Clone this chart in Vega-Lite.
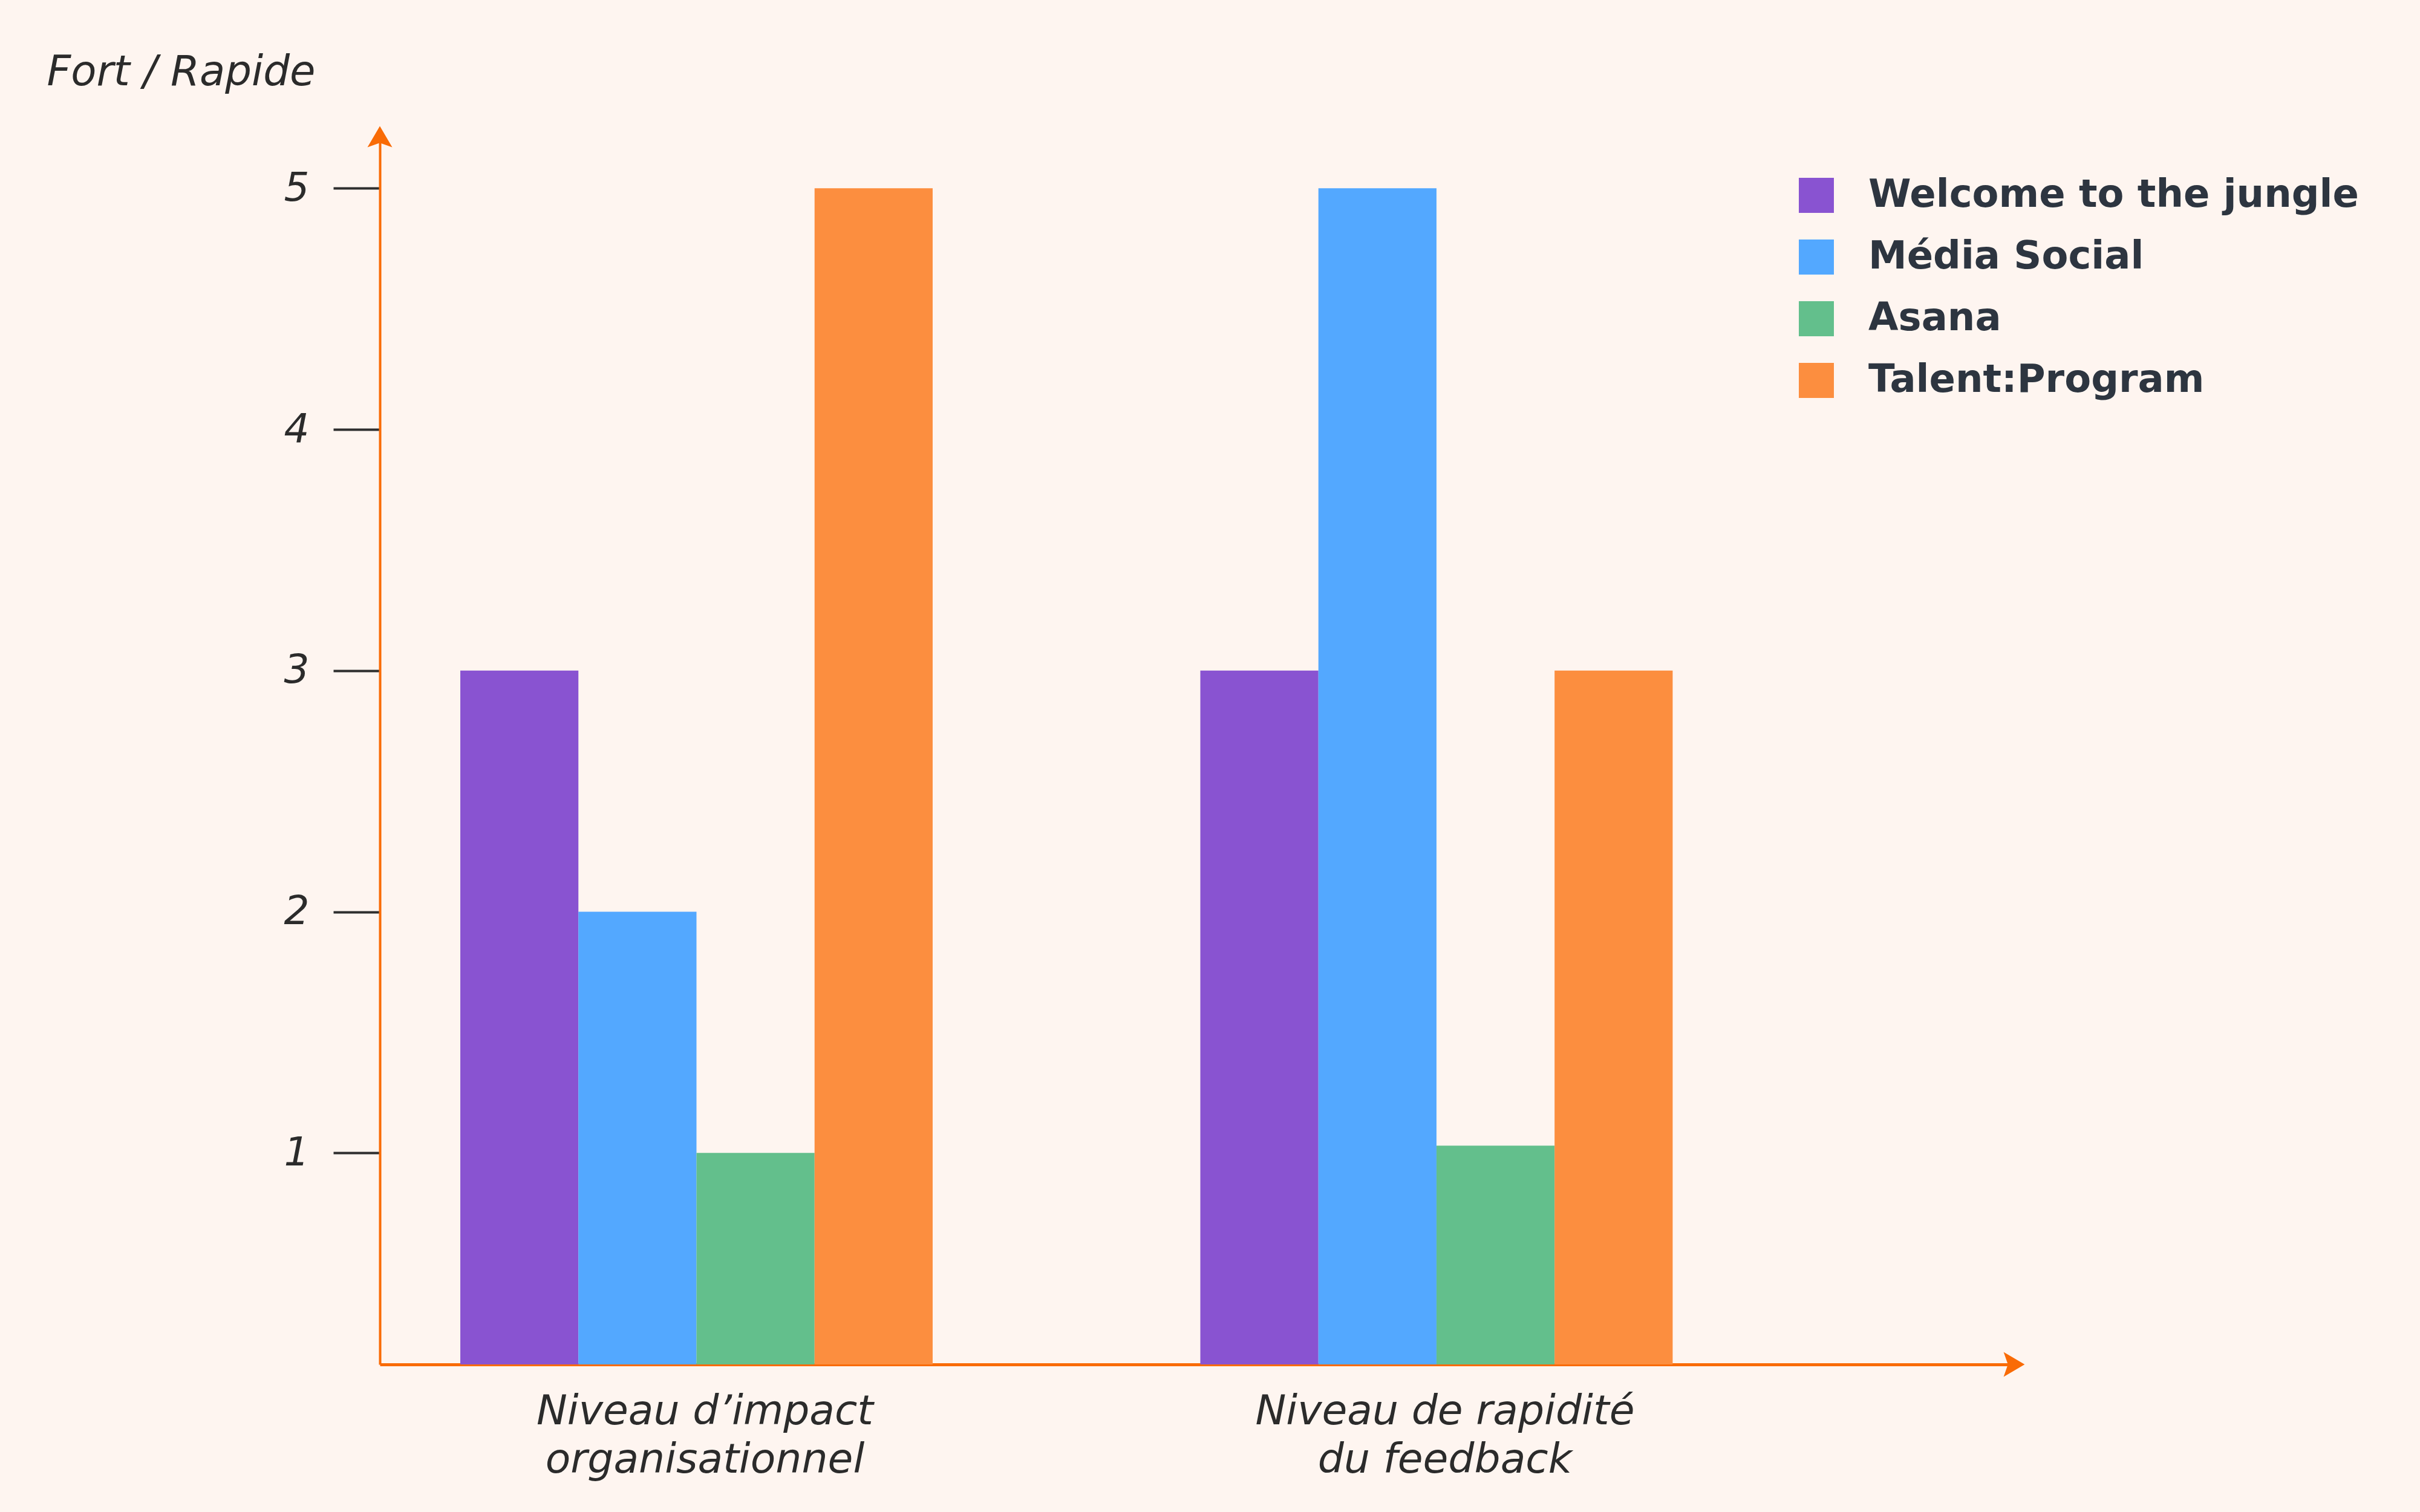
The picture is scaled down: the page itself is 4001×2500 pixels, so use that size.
{
  "$schema": "https://vega.github.io/schema/vega-lite/v6.json",
  "width": 2702,
  "height": 2030,
  "autosize": {"type": "none"},
  "padding": {"left": 628, "top": 226, "right": 671, "bottom": 244},
  "background": "#fef5f0",
  "config": {"font": "DejaVu Sans", "view": {"stroke": null}},
  "datasets": {
    "scores": [
      {"critere": "Niveau d’impact organisationnel", "outil": "Welcome to the jungle", "note": 3},
      {"critere": "Niveau d’impact organisationnel", "outil": "Média Social", "note": 2},
      {"critere": "Niveau d’impact organisationnel", "outil": "Asana", "note": 1},
      {"critere": "Niveau d’impact organisationnel", "outil": "Talent:Program", "note": 5},
      {"critere": "Niveau de rapidité du feedback", "outil": "Welcome to the jungle", "note": 3},
      {"critere": "Niveau de rapidité du feedback", "outil": "Média Social", "note": 5},
      {"critere": "Niveau de rapidité du feedback", "outil": "Asana", "note": 1.03},
      {"critere": "Niveau de rapidité du feedback", "outil": "Talent:Program", "note": 3}
    ],
    "fleche": [{"axe": "un"}]
  },
  "layer": [
    {
      "data": {"name": "scores"},
      "mark": {"type": "bar", "clip": true},
      "encoding": {
        "x": {
          "field": "critere",
          "type": "nominal",
          "sort": ["Niveau d’impact organisationnel", "Niveau de rapidité du feedback"],
          "scale": {"paddingInner": 0.3617, "paddingOuter": 0.2851, "align": 0.1907},
          "axis": {
            "title": null,
            "ticks": false,
            "domainColor": "#f96b06",
            "domainWidth": 5,
            "labelAngle": 0,
            "labelFontSize": 68,
            "labelFontStyle": "italic",
            "labelColor": "#2b2b2b",
            "labelPadding": 44,
            "labelLineHeight": 80,
            "labelOffset": 14,
            "labelLimit": 2000,
            "labelExpr": "datum.value === 'Niveau d’impact organisationnel' ? ['Niveau d’impact', 'organisationnel'] : ['Niveau de rapidité', 'du feedback']"
          }
        },
        "xOffset": {
          "field": "outil",
          "type": "nominal",
          "sort": ["Welcome to the jungle", "Média Social", "Asana", "Talent:Program"]
        },
        "y": {
          "field": "note",
          "type": "quantitative",
          "scale": {"domain": [0.123, 5.214], "zero": false, "nice": false},
          "axis": {
            "values": [1, 2, 3, 4, 5],
            "format": "d",
            "title": "Fort / Rapide",
            "titleAngle": 0,
            "titleAlign": "left",
            "titleBaseline": "alphabetic",
            "titleX": -551,
            "titleY": -86,
            "titleFontSize": 69,
            "titleFontStyle": "italic",
            "titleFontWeight": "normal",
            "titleColor": "#2b2b2b",
            "domainColor": "#f96b06",
            "domainWidth": 4,
            "tickColor": "#2e2e2e",
            "tickWidth": 4,
            "tickSize": 77,
            "labelFontSize": 66,
            "labelFontStyle": "italic",
            "labelColor": "#2b2b2b",
            "labelPadding": 40,
            "grid": false
          }
        },
        "color": {
          "field": "outil",
          "type": "nominal",
          "scale": {
            "domain": ["Welcome to the jungle", "Média Social", "Asana", "Talent:Program"],
            "range": ["#8953d1", "#53a8ff", "#63bf8c", "#fc8e3f"]
          },
          "legend": {
            "orient": "none",
            "legendX": 2343,
            "legendY": 65,
            "title": null,
            "symbolType": "square",
            "symbolSize": 3364,
            "symbolStrokeWidth": 0,
            "symbolOpacity": 1,
            "labelFontSize": 64,
            "labelFontWeight": "bold",
            "labelColor": "#2d3540",
            "labelOffset": 54,
            "rowPadding": 38,
            "labelLimit": 2000
          }
        }
      }
    },
    {
      "data": {"name": "fleche"},
      "mark": {"type": "point", "shape": "M0,-0.85L1,0.85L0,0.5L-1,0.85Z", "filled": true, "color": "#f96b06", "opacity": 1, "size": 1681, "strokeWidth": 0},
      "encoding": {
        "x": {"datum": 0, "type": "quantitative", "scale": {"domain": [0, 1]}, "axis": null},
        "y": {"datum": 5.214, "type": "quantitative"}
      }
    },
    {
      "data": {"name": "fleche"},
      "mark": {"type": "point", "shape": "M0.85,0L-0.85,-1L-0.5,0L-0.85,1Z", "filled": true, "color": "#f96b06", "opacity": 1, "size": 1681, "strokeWidth": 0},
      "encoding": {
        "x": {"datum": 1, "type": "quantitative", "scale": {"domain": [0, 1]}, "axis": null},
        "y": {"datum": 0.123, "type": "quantitative"}
      }
    }
  ],
  "resolve": {"scale": {"x": "independent"}}
}
